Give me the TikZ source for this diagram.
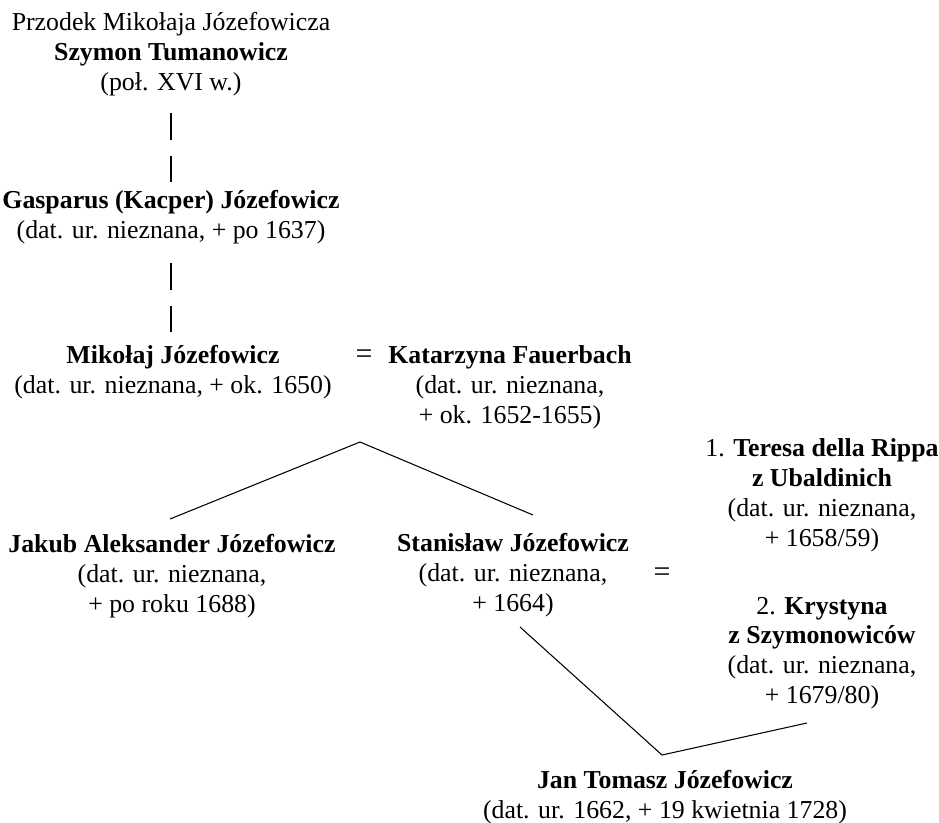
\documentclass[tikz,border=0pt]{standalone}
\usepackage{fontspec}
\setmainfont{Liberation Serif}
\usepackage{tikz}
\usetikzlibrary{calc}

\begin{document}
\begin{tikzpicture}[
  person/.style={align=center, inner sep=0pt, font=\fontsize{14.7}{17.0}\selectfont},
  marriage/.style={inner sep=0pt, font=\fontsize{17}{17}\selectfont},
  descent/.style={black, line width=1.6pt, dash pattern=on 0.54cm off 0.32cm},
  child/.style={black, line width=0.6pt}]
\useasboundingbox (0cm,0cm) rectangle (18.78cm,-16.44cm);
\node[person] (szymon) at (3.42cm,-1.08cm) {Przodek Mikołaja Józefowicza\\\textbf{Szymon Tumanowicz}\\(poł. XVI w.)};
\node[person] (gasparus) at (3.42cm,-4.34cm) {\textbf{Gasparus (Kacper) Józefowicz}\\(dat. ur. nieznana, + po 1637)};
\node[person] (mikolaj) at (3.46cm,-7.44cm) {\textbf{Mikołaj Józefowicz}\\(dat. ur. nieznana, + ok. 1650)};
\node[marriage] (eqa) at (7.28cm,-7.14cm) {=};
\node[person] (katarzyna) at (10.20cm,-7.74cm) {\textbf{Katarzyna Fauerbach}\\(dat. ur. nieznana,\\+ ok. 1652-1655)};
\coordinate (fork) at (7.20cm,-8.84cm);
\node[person] (jakub) at (3.44cm,-11.52cm) {\textbf{Jakub Aleksander Józefowicz}\\(dat. ur. nieznana,\\+ po roku 1688)};
\node[person] (stanislaw) at (10.26cm,-11.50cm) {\textbf{Stanisław Józefowicz}\\(dat. ur. nieznana,\\+ 1664)};
\node[marriage] (eqb) at (13.24cm,-11.50cm) {=};
\node[person] (teresa) at (16.44cm,-9.90cm) {1. \textbf{Teresa della Rippa}\\\textbf{z Ubaldinich}\\(dat. ur. nieznana,\\+ 1658/59)};
\node[person] (krystyna) at (16.44cm,-13.06cm) {2. \textbf{Krystyna}\\\textbf{z Szymonowiców}\\(dat. ur. nieznana,\\+ 1679/80)};
\node[person] (jan) at (13.30cm,-15.94cm) {\textbf{Jan Tomasz Józefowicz}\\(dat. ur. 1662, + 19 kwietnia 1728)};
\draw[descent, shorten <=1.18cm, shorten >=0.70cm] (szymon.center) -- (gasparus.center);
\draw[descent, shorten <=0.92cm, shorten >=0.80cm] (gasparus.center) -- (gasparus.center |- mikolaj.center);
\draw[child] ([shift={(-0.04cm,1.14cm)}]jakub.center) -- (fork) -- ([shift={(0.40cm,1.20cm)}]stanislaw.center);
\draw[child] ([shift={(0.14cm,-1.04cm)}]stanislaw.center) -- ([shift={(-0.06cm,0.84cm)}]jan.center) -- ([shift={(-0.30cm,-1.40cm)}]krystyna.center);
\end{tikzpicture}
\end{document}
